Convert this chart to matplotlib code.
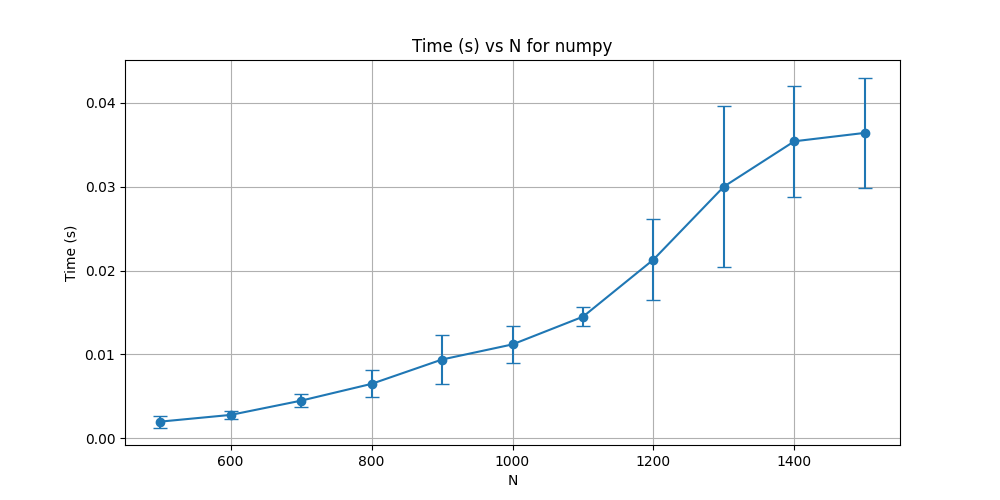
import numpy as np
import matplotlib
matplotlib.use('Agg')
import matplotlib.pyplot as plt

# problem sizes and measured timings (mean, std)
n_values = [500, 600, 700, 800, 900, 1000, 1100, 1200, 1300, 1400, 1500]
mean_times = [0.0020, 0.0028, 0.0045, 0.0065, 0.0094, 0.0112, 0.0145, 0.0213, 0.0300, 0.0354, 0.0364]
std_times = [0.0007, 0.0005, 0.0008, 0.0016, 0.0029, 0.0022, 0.0011, 0.0048, 0.0096, 0.0066, 0.0066]

fig, ax = plt.subplots(figsize=(10, 5), dpi=100)
ax.errorbar(n_values, mean_times, yerr=std_times, fmt='-o', capsize=5)
ax.set_title('Time (s) vs N for numpy')
ax.set_xlabel('N')
ax.set_ylabel('Time (s)')
ax.grid(True)
fig.savefig('out.png')
